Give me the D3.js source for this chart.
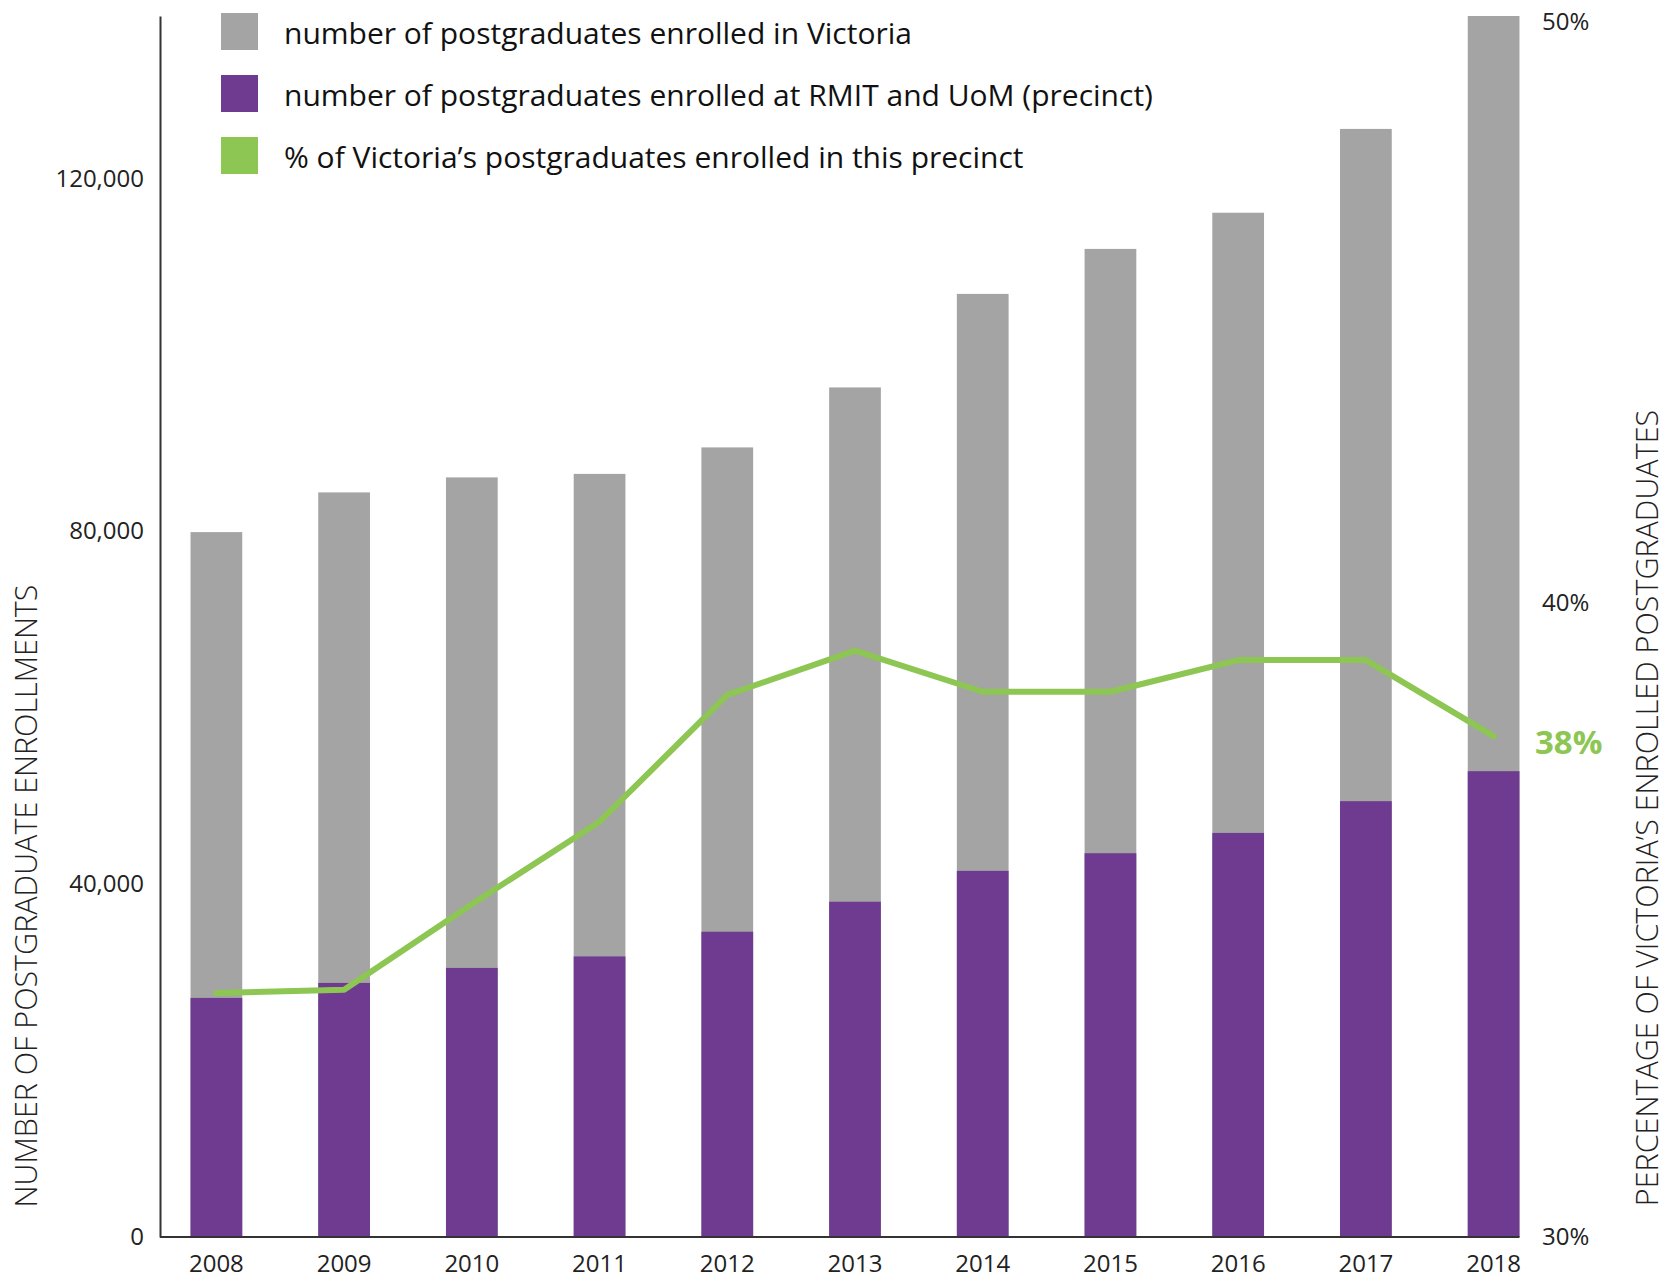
<!DOCTYPE html>
<html>
<head>
<meta charset="utf-8">
<script src="https://cdn.jsdelivr.net/npm/d3@7"></script>
<style>
  body { margin: 0; background: #fff; }
  svg { font-family: "Open Sans", sans-serif; }
</style>
</head>
<body>
<script>
const years = ["2008", "2009", "2010", "2011", "2012", "2013", "2014", "2015", "2016", "2017", "2018"];
const victoriaTotal = [79900, 84400, 86100, 86500, 89500, 96300, 106900, 112000, 116100, 125600, 138400];
const precinctTotal = [27100, 28800, 30500, 31800, 34600, 38000, 41500, 43500, 45800, 49400, 52800];
const precinctShare = [33.85, 33.9, 35.25, 36.55, 38.55, 39.25, 38.6, 38.6, 39.1, 39.1, 37.9];
const leftTicks = [0, 40000, 80000, 120000];
const rightTicks = [30, 40, 50];
const legendLabels = [
  "number of postgraduates enrolled in Victoria",
  "number of postgraduates enrolled at RMIT and UoM (precinct)",
  "% of Victoria’s postgraduates enrolled in this precinct",
];
const legendColors = ["#a3a4a3", "#6e3b91", "#8dc653"];

const width = 1672;
const height = 1283;

const svg = d3
  .select("body")
  .append("svg")
  .attr("width", width)
  .attr("height", height);

const xScale = d3
  .scaleBand()
  .domain(years)
  .range([160, 1550])
  .paddingInner(0.595)
  .paddingOuter(0.239);

const yScale = d3.scaleLinear().domain([0, 138400]).range([1237, 16]);

// the right axis is not evenly spaced in the original
const pctScale = d3.scaleLinear().domain([30, 40, 50]).range([1237, 603, 16]);

// Bars

svg
  .append("g")
  .selectAll("rect")
  .data(years)
  .enter()
  .append("rect")
  .attr("x", (d) => xScale(d))
  .attr("y", (d, i) => yScale(victoriaTotal[i]))
  .attr("width", xScale.bandwidth())
  .attr("height", (d, i) => yScale(0) - yScale(victoriaTotal[i]))
  .attr("fill", legendColors[0]);

svg
  .append("g")
  .selectAll("rect")
  .data(years)
  .enter()
  .append("rect")
  .attr("x", (d) => xScale(d))
  .attr("y", (d, i) => yScale(precinctTotal[i]))
  .attr("width", xScale.bandwidth())
  .attr("height", (d, i) => yScale(0) - yScale(precinctTotal[i]))
  .attr("fill", legendColors[1]);

// Axes

const yAxis = d3
  .axisLeft(yScale)
  .tickValues(leftTicks)
  .tickSize(0)
  .tickPadding(16)
  .tickFormat(d3.format(","));

const yAxisEl = svg
  .append("g")
  .attr("transform", "translate(160, 0)")
  .call(yAxis);
yAxisEl.select(".domain").attr("stroke", "#333").attr("stroke-width", 2);
yAxisEl
  .selectAll("text")
  .attr("fill", "#222")
  .style("font-size", "24px")
  .style("font-family", "Open Sans");

svg
  .append("line")
  .attr("x1", 160)
  .attr("x2", xScale("2018") + xScale.bandwidth())
  .attr("y1", yScale(0))
  .attr("y2", yScale(0))
  .attr("stroke", "#333")
  .attr("stroke-width", 2);

const xAxisEl = svg
  .append("g")
  .attr("transform", `translate(0, ${yScale(0)})`)
  .call(d3.axisBottom(xScale).tickSize(0).tickPadding(18));
xAxisEl.select(".domain").remove();
xAxisEl
  .selectAll("text")
  .attr("fill", "#222")
  .style("font-size", "24px")
  .style("font-family", "Open Sans");

const rightAxisEl = svg
  .append("g")
  .attr("transform", "translate(1542, 0)")
  .call(
    d3
      .axisRight(pctScale)
      .tickValues(rightTicks)
      .tickSize(0)
      .tickPadding(0)
      .tickFormat((d) => d + "%")
  );
rightAxisEl.select(".domain").remove();
rightAxisEl
  .selectAll("text")
  .attr("fill", "#222")
  .attr("dy", (d) => (d === 50 ? "0.55em" : "0.32em"))
  .style("font-size", "24px")
  .style("font-family", "Open Sans");

// Line

const line = d3
  .line()
  .x((d, i) => xScale(years[i]) + xScale.bandwidth() / 2)
  .y((d) => pctScale(d));

svg
  .append("path")
  .datum(precinctShare)
  .attr("d", line)
  .attr("fill", "none")
  .attr("stroke", legendColors[2])
  .attr("stroke-width", 6)
  .attr("stroke-linejoin", "round")
  .attr("stroke-linecap", "round");

svg
  .append("text")
  .attr("x", 1535)
  .attr("y", pctScale(precinctShare[10]))
  .attr("dy", "0.55em")
  .attr("fill", legendColors[2])
  .style("font-size", "33px")
  .style("font-weight", "bold")
  .text("38%");

// Axis titles

svg
  .append("text")
  .attr("transform", "translate(37, 896) rotate(-90)")
  .attr("text-anchor", "middle")
  .attr("fill", "#222")
  .style("font-size", "30.5px")
  .style("font-weight", 300)
  .text("NUMBER OF POSTGRADUATE ENROLLMENTS");

svg
  .append("text")
  .attr("transform", "translate(1658, 808) rotate(-90)")
  .attr("text-anchor", "middle")
  .attr("fill", "#222")
  .style("font-size", "30.5px")
  .style("font-weight", 300)
  .text("PERCENTAGE OF VICTORIA’S ENROLLED POSTGRADUATES");

// Legend

const legend = svg.append("g").attr("transform", "translate(221, 13)");

legend
  .selectAll("rect")
  .data(legendLabels)
  .enter()
  .append("rect")
  .attr("x", 0)
  .attr("y", (d, i) => i * 62)
  .attr("width", 37)
  .attr("height", 37)
  .attr("fill", (d, i) => legendColors[i]);

legend
  .selectAll("text")
  .data(legendLabels)
  .enter()
  .append("text")
  .attr("x", 63)
  .attr("y", (d, i) => i * 62 + 18.5)
  .attr("dy", "0.4em")
  .attr("fill", "#111")
  .style("font-size", "30px")
  .text((d) => d);
</script>
</body>
</html>
